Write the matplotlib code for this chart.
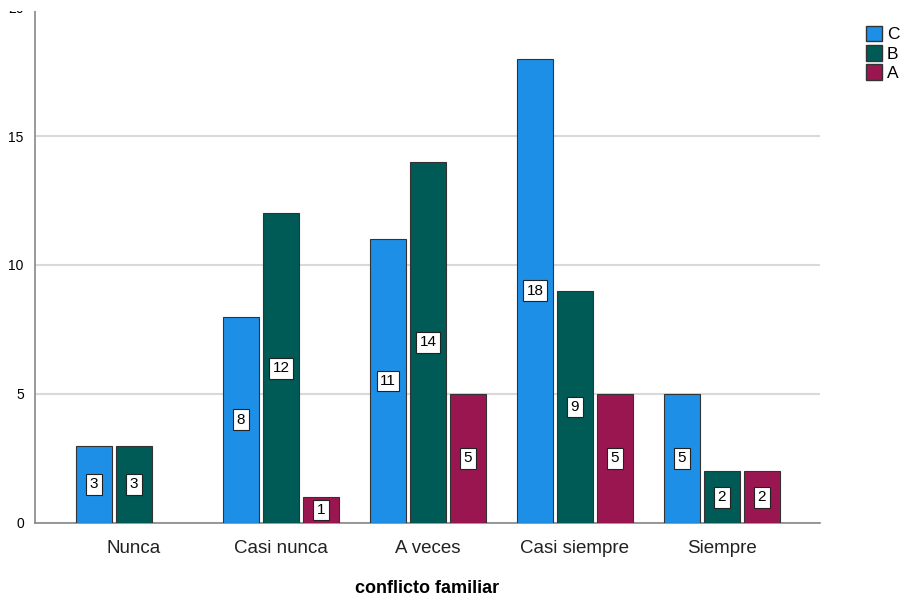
import numpy as np
import matplotlib
matplotlib.use("Agg")
import matplotlib.pyplot as plt
from matplotlib.patches import Patch, Rectangle

categories = ["Nunca", "Casi nunca", "A veces", "Casi siempre", "Siempre"]
series_names = ["C", "B", "A"]
values_c = [3, 8, 11, 18, 5]
values_b = [3, 12, 14, 9, 2]
values_a = [0, 1, 5, 5, 2]
colors = ["#1E8FE6", "#005A55", "#9A1650"]

plt.rcParams["font.family"] = ["Liberation Sans", "DejaVu Sans"]

fig = plt.figure(figsize=(9.04, 5.99), dpi=100)
ax = fig.add_axes([0.0387, 0.1269, 0.8684, 0.8614])

x = np.arange(len(categories))
width = 0.245
step = 0.272
for i, (name, vals, col) in enumerate(zip(series_names, [values_c, values_b, values_a], colors)):
    pos = x + (i - 1) * step
    for p, v in zip(pos, vals):
        if v <= 0:
            continue
        ax.bar(p, v, width, color=col, edgecolor="#333333", linewidth=0.8, zorder=3)
        ax.text(p, v / 2, str(v), ha="center", va="center", fontsize=11, zorder=5,
                bbox=dict(boxstyle="square,pad=0.22", fc="white", ec="#222222", lw=0.8))

handles = [Patch(facecolor=c, edgecolor="#333333", label=n) for n, c in zip(series_names, colors)]
fig.legend(handles=handles, loc="upper left", bbox_to_anchor=(0.958, 0.957), frameon=False,
           fontsize=12.5, handlelength=0.9, handleheight=1.0, handletextpad=0.3, labelspacing=0.15,
           borderaxespad=0, borderpad=0)

ax.set_xlim(-0.673, 4.667)
ax.set_ylim(0, 20)
ax.set_yticks([0, 5, 10, 15, 20])
ax.set_xticks(x)
ax.set_xticklabels(categories, fontsize=13.5, color="#222222")
ax.tick_params(axis="x", length=0, pad=12)
ax.tick_params(axis="y", length=0, labelsize=10, pad=8)
ax.yaxis.grid(True, color="#d9d9d9", linewidth=1.5, zorder=0)
for s in ["top", "right"]:
    ax.spines[s].set_visible(False)
for s in ["left", "bottom"]:
    ax.spines[s].set_color("#888888")
    ax.spines[s].set_linewidth(1.2)
ax.set_xlabel("conflicto familiar", fontsize=13, fontweight="bold", labelpad=17)

# the original image is cropped just under its top edge
fig.patches.append(Rectangle((0, 1 - 11 / 599), 1, 11 / 599, transform=fig.transFigure,
                             facecolor="white", edgecolor="none", zorder=10))

fig.savefig("out.png", dpi=100)
